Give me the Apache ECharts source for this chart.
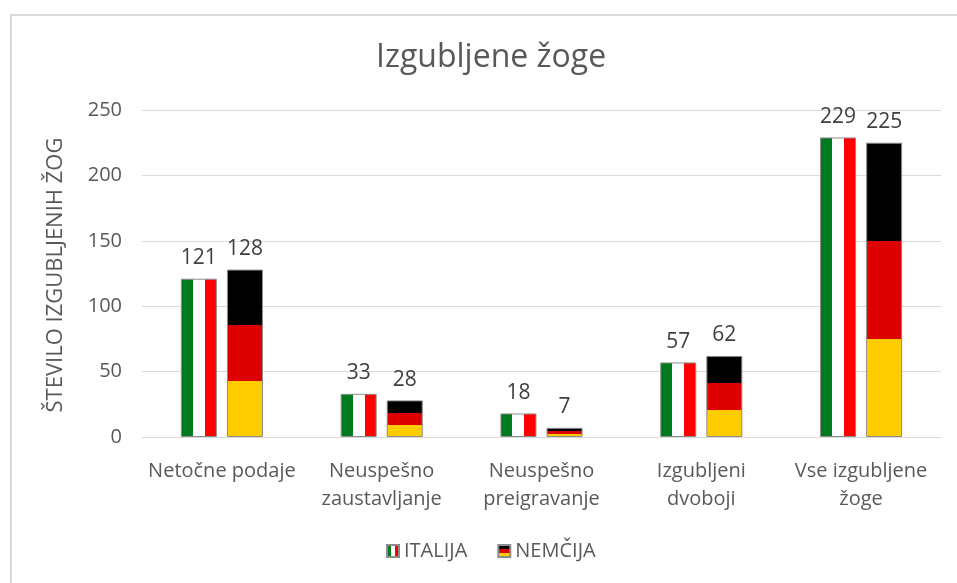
<!DOCTYPE html>
<html>
<head>
<meta charset="utf-8">
<script src="https://cdn.jsdelivr.net/npm/echarts@6/dist/echarts.min.js"></script>
<style>
  html, body { margin: 0; padding: 0; background: #fff; }
  #frame { position: absolute; left: 10px; top: 14px; width: 960px; height: 600px; border: 2px solid #d9d9d9; box-sizing: border-box; }
  #chart { position: absolute; left: 0; top: 0; width: 957px; height: 583px; }
</style>
</head>
<body>
<div id="frame"></div>
<div id="chart"></div>
<script>
var categories = ['Netočne podaje', 'Neuspešno\nzaustavljanje', 'Neuspešno\npreigravanje', 'Izgubljeni\ndvoboji', 'Vse izgubljene\nžoge'];
var italija = [121, 33, 18, 57, 229];
var nemcija = [128, 28, 7, 62, 225];
var yTitle = 'ŠTEVILO IZGUBLJENIH ŽOG';

var txt = '#595959';
var font = '"Open Sans", Lato, sans-serif';

// flag fills, stretched over each bar
var italyFill = new echarts.graphic.LinearGradient(0, 0, 1, 0, [
  { offset: 0, color: '#007a1e' }, { offset: 0.333, color: '#007a1e' },
  { offset: 0.333, color: '#ffffff' }, { offset: 0.667, color: '#ffffff' },
  { offset: 0.667, color: '#ff0000' }, { offset: 1, color: '#ff0000' }
]);
var germanyFill = new echarts.graphic.LinearGradient(0, 0, 0, 1, [
  { offset: 0, color: '#000000' }, { offset: 0.333, color: '#000000' },
  { offset: 0.333, color: '#dd0000' }, { offset: 0.667, color: '#dd0000' },
  { offset: 0.667, color: '#ffcc00' }, { offset: 1, color: '#ffcc00' }
]);

var myChart = echarts.init(document.getElementById('chart'), null, { renderer: 'canvas' });

var option = {
  animation: false,
  textStyle: { fontFamily: font },
  title: {
    text: 'Izgubljene žoge',
    left: 371,
    top: 37,
    textStyle: { fontFamily: font, fontSize: 32, fontWeight: 'normal', color: txt }
  },
  legend: {
    bottom: 17,
    left: 381,
    itemWidth: 12,
    itemHeight: 12,
    itemGap: 30,
    icon: 'rect',
    textStyle: { fontFamily: font, fontSize: 20, color: txt },
    data: ['ITALIJA', 'NEMČIJA']
  },
  // axis title drawn as rotated text
  graphic: [{
    type: 'text',
    x: 56,
    y: 275,
    rotation: Math.PI / 2,
    style: {
      text: yTitle,
      fill: txt,
      font: '22px ' + font,
      textAlign: 'center',
      textVerticalAlign: 'middle'
    }
  }],
  grid: { left: 142, right: 16, top: 110, bottom: 146 },
  xAxis: {
    type: 'category',
    data: categories,
    axisLine: { lineStyle: { color: '#d9d9d9' } },
    axisTick: { show: false },
    axisLabel: { fontFamily: font, fontSize: 20, color: txt, margin: 20, lineHeight: 28, interval: 0 }
  },
  yAxis: {
    type: 'value',
    min: 0,
    max: 250,
    interval: 50,
    axisLine: { show: false },
    axisTick: { show: false },
    axisLabel: { fontFamily: font, fontSize: 20, color: txt, margin: 20 },
    splitLine: { lineStyle: { color: '#d9d9d9' } }
  },
  series: [
    {
      name: 'ITALIJA',
      type: 'bar',
      data: italija,
      barWidth: 36,
      barGap: '28%',
      itemStyle: { color: italyFill, borderColor: '#8c8c8c', borderWidth: 1 },
      label: { show: true, position: 'top', distance: 10, fontFamily: font, fontSize: 21, color: '#404040' }
    },
    {
      name: 'NEMČIJA',
      type: 'bar',
      data: nemcija,
      barWidth: 36,
      itemStyle: { color: germanyFill, borderColor: '#8c8c8c', borderWidth: 1 },
      label: { show: true, position: 'top', distance: 10, fontFamily: font, fontSize: 21, color: '#404040' }
    }
  ]
};

myChart.setOption(option);
window.addEventListener('resize', myChart.resize);
</script>
</body>
</html>
